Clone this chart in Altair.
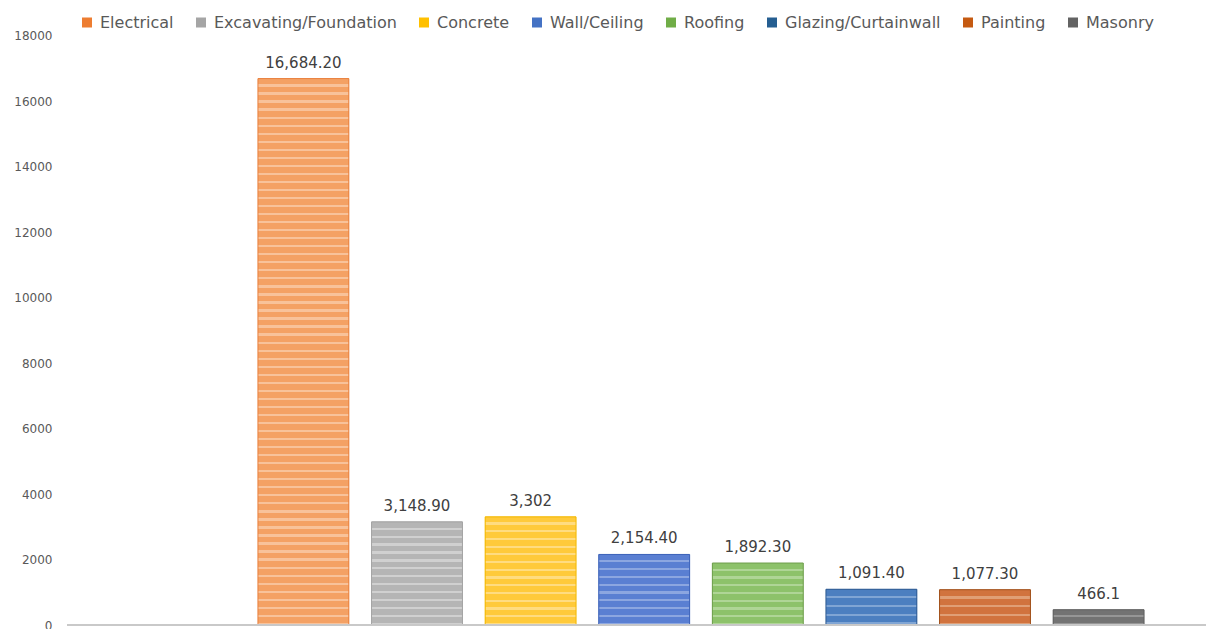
import altair as alt
import pandas as pd

categories = ["Electrical", "Excavating/Foundation", "Concrete", "Wall/Ceiling",
              "Roofing", "Glazing/Curtainwall", "Painting", "Masonry"]
values = [16684.2, 3148.9, 3302, 2154.4, 1892.3, 1091.4, 1077.3, 466.1]
value_labels = ["16,684.20", "3,148.90", "3,302", "2,154.40", "1,892.30",
                "1,091.40", "1,077.30", "466.1"]
legend_colors = ["#ED7D31", "#A5A5A5", "#FFC000", "#4472C4", "#70AD47",
                 "#255E91", "#C55A11", "#636363"]
bar_fills = ["#F4A164", "#B5B5B5", "#FFCA3A", "#5A7FD2", "#8DC26A",
             "#4C7FC0", "#D1733E", "#737373"]
stripe_fills = ["#F8C29A", "#D0D0D0", "#FFDC80", "#8CA6E0", "#AFD596",
                "#80A5D4", "#E09F76", "#969696"]
bar_strokes = ["#E9803E", "#A3A3A3", "#F2B800", "#3D62B8", "#6E9E4C",
               "#2E5A92", "#A0501A", "#5E5E5E"]
y_ticks = [0, 2000, 4000, 6000, 8000, 10000, 12000, 14000, 16000, 18000]
y_max = 18000

W = 1139
H = 589.5
FONT = "DejaVu Sans"

df = pd.DataFrame({"category": categories, "value": values, "label": value_labels})

step = 113.6
r0 = 179.6
x_enc = alt.X("category:N", sort=categories, axis=None,
              scale=alt.Scale(domain=categories, range=[r0, r0 + 8 * step],
                              paddingInner=0.2, paddingOuter=0.1))
y_enc = alt.Y("value:Q", title=None,
              scale=alt.Scale(domain=[0, y_max], nice=False, zero=True),
              axis=alt.Axis(values=y_ticks, format="d", grid=False, domain=False,
                            ticks=False, labelPadding=15, labelFont=FONT,
                            labelFontSize=12, labelColor="#595959"))

base = alt.Chart(df).mark_bar().encode(
    x=x_enc,
    y=y_enc,
    color=alt.Color("category:N", sort=categories,
                    scale=alt.Scale(domain=categories, range=legend_colors),
                    legend=alt.Legend(title=None, orient="none", direction="horizontal",
                                      legendX=12, legendY=-21, symbolType="square",
                                      symbolSize=100, symbolStrokeWidth=0,
                                      labelFont=FONT, labelFontSize=16,
                                      labelColor="#595959", labelOffset=5,
                                      columnPadding=19, labelLimit=400, padding=0)),
)

layers = [base]
for i, cat in enumerate(categories):
    h_px = values[i] / y_max * H
    n = max(1, round(h_px / 8))
    stops = []
    for k in range(n):
        a = k / n
        m = (k + 0.72) / n
        b = (k + 1) / n
        stops += [
            {"offset": a, "color": bar_fills[i]},
            {"offset": m, "color": bar_fills[i]},
            {"offset": m, "color": stripe_fills[i]},
            {"offset": b, "color": stripe_fills[i]},
        ]
    grad = {"gradient": "linear", "x1": 0, "y1": 0, "x2": 0, "y2": 1, "stops": stops}
    layer = alt.Chart(df).transform_filter(
        alt.datum.category == cat
    ).mark_bar(fill=grad, stroke=bar_strokes[i], strokeWidth=1).encode(x=x_enc, y=y_enc)
    layers.append(layer)

labels = alt.Chart(df).mark_text(baseline="alphabetic", dy=-11, font=FONT,
                                 fontSize=15, color="#404040").encode(
    x=x_enc, y=y_enc, text="label:N")
layers.append(labels)

baseline = alt.Chart(df).mark_rule(color="#C8C8C8", strokeWidth=1.5).encode(
    x=alt.value(0), x2=alt.value(W), y=alt.value(H))
layers.append(baseline)

chart = alt.layer(*layers).properties(
    width=W, height=H,
    autosize=alt.AutoSizeParams(type="none"),
    padding={"left": 59, "top": 27.5, "right": 1, "bottom": 4},
    background="white",
).configure_view(stroke=None)

chart.save("out.html", embed_options={"renderer": "svg", "actions": False})
